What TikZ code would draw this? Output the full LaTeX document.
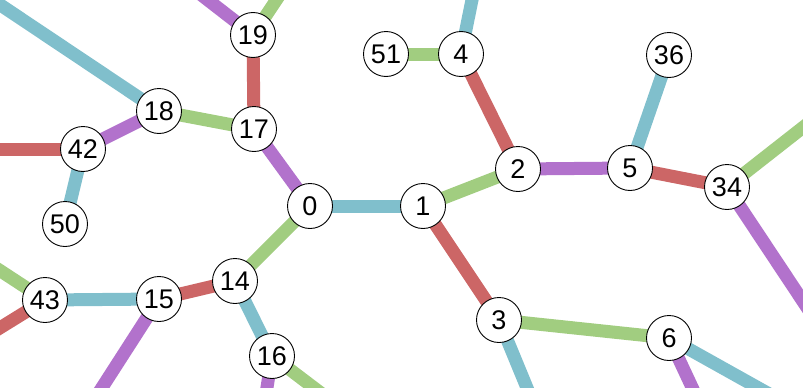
\documentclass[tikz,border=0pt]{standalone}
\usepackage{fontspec}
\setmainfont{Liberation Sans}
\usetikzlibrary{backgrounds}
\definecolor{eblue}{RGB}{128,191,204}
\definecolor{egreen}{RGB}{161,205,128}
\definecolor{ered}{RGB}{204,102,102}
\definecolor{epurple}{RGB}{178,114,204}

\begin{document}
\begin{tikzpicture}[
      x=1pt,y=-1pt,
      vert/.style={draw,circle,fill=white,line width=0.9pt,minimum size=45pt,
                   inner sep=0pt,font=\fontsize{27}{27}\selectfont},
      bline/.style={line width=13pt,eblue},
      gline/.style={line width=13pt,egreen},
      rline/.style={line width=13pt,ered},
      pline/.style={line width=13pt,epurple},
    ]
    \useasboundingbox (0,0) rectangle (803,388);
    \clip (0,0) rectangle (803,388);

    % vertices
    \node[vert] (v19) at (253,35) {19};
    \node[vert] (v18) at (159,111) {18};
    \node[vert] (v17) at (254,129) {17};
    \node[vert] (v42) at (83,149) {42};
    \node[vert] (v50) at (65,224) {50};
    \node[vert] (v51) at (386,54) {51};
    \node[vert] (v4) at (461,54) {4};
    \node[vert] (v2) at (518,169) {2};
    \node[vert] (v36) at (669,55) {36};
    \node[vert] (v5) at (630,168) {5};
    \node[vert] (v34) at (727,187) {34};
    \node[vert] (v0) at (310,206) {0};
    \node[vert] (v1) at (423,206) {1};
    \node[vert] (v14) at (235,281) {14};
    \node[vert] (v43) at (45,300) {43};
    \node[vert] (v15) at (159,299) {15};
    \node[vert] (v16) at (272,356) {16};
    \node[vert] (v3) at (499,320) {3};
    \node[vert] (v6) at (669,338) {6};

    % loose ends past the border
    \coordinate (o19a) at (195,-10);
    \coordinate (o19b) at (283,-10);
    \coordinate (o18) at (-10,-2);
    \coordinate (o42) at (-10,149);
    \coordinate (o4) at (474,-10);
    \coordinate (o34a) at (815,118);
    \coordinate (o34b) at (812,315);
    \coordinate (o43a) at (-10,264);
    \coordinate (o43b) at (-10,334);
    \coordinate (o15) at (94,400);
    \coordinate (o16a) at (265,400);
    \coordinate (o16b) at (330,400);
    \coordinate (o3) at (532,400);
    \coordinate (o6a) at (698,400);
    \coordinate (o6b) at (780,400);

    \begin{scope}[on background layer]
      % inner edges
      \draw[rline] (v19.center)--(v17.center);
      \draw[gline] (v18.center)--(v17.center);
      \draw[pline] (v18.center)--(v42.center);
      \draw[pline] (v17.center)--(v0.center);
      \draw[bline] (v42.center)--(v50.center);
      \draw[bline] (v0.center)--(v1.center);
      \draw[gline] (v0.center)--(v14.center);
      \draw[rline] (v14.center)--(v15.center);
      \draw[bline] (v14.center)--(v16.center);
      \draw[bline] (v15.center)--(v43.center);
      \draw[gline] (v1.center)--(v2.center);
      \draw[rline] (v1.center)--(v3.center);
      \draw[rline] (v2.center)--(v4.center);
      \draw[gline] (v4.center)--(v51.center);
      \draw[pline] (v2.center)--(v5.center);
      \draw[bline] (v5.center)--(v36.center);
      \draw[rline] (v5.center)--(v34.center);
      \draw[gline] (v3.center)--(v6.center);

      % edges leaving the view
      \draw[pline] (v19.center)--(o19a);
      \draw[gline] (v19.center)--(o19b);
      \draw[bline] (v18.center)--(o18);
      \draw[rline] (v42.center)--(o42);
      \draw[bline] (v4.center)--(o4);
      \draw[gline] (v34.center)--(o34a);
      \draw[pline] (v34.center)--(o34b);
      \draw[gline] (v43.center)--(o43a);
      \draw[rline] (v43.center)--(o43b);
      \draw[pline] (v15.center)--(o15);
      \draw[pline] (v16.center)--(o16a);
      \draw[gline] (v16.center)--(o16b);
      \draw[bline] (v3.center)--(o3);
      \draw[pline] (v6.center)--(o6a);
      \draw[bline] (v6.center)--(o6b);
    \end{scope}
  \end{tikzpicture}
\end{document}
